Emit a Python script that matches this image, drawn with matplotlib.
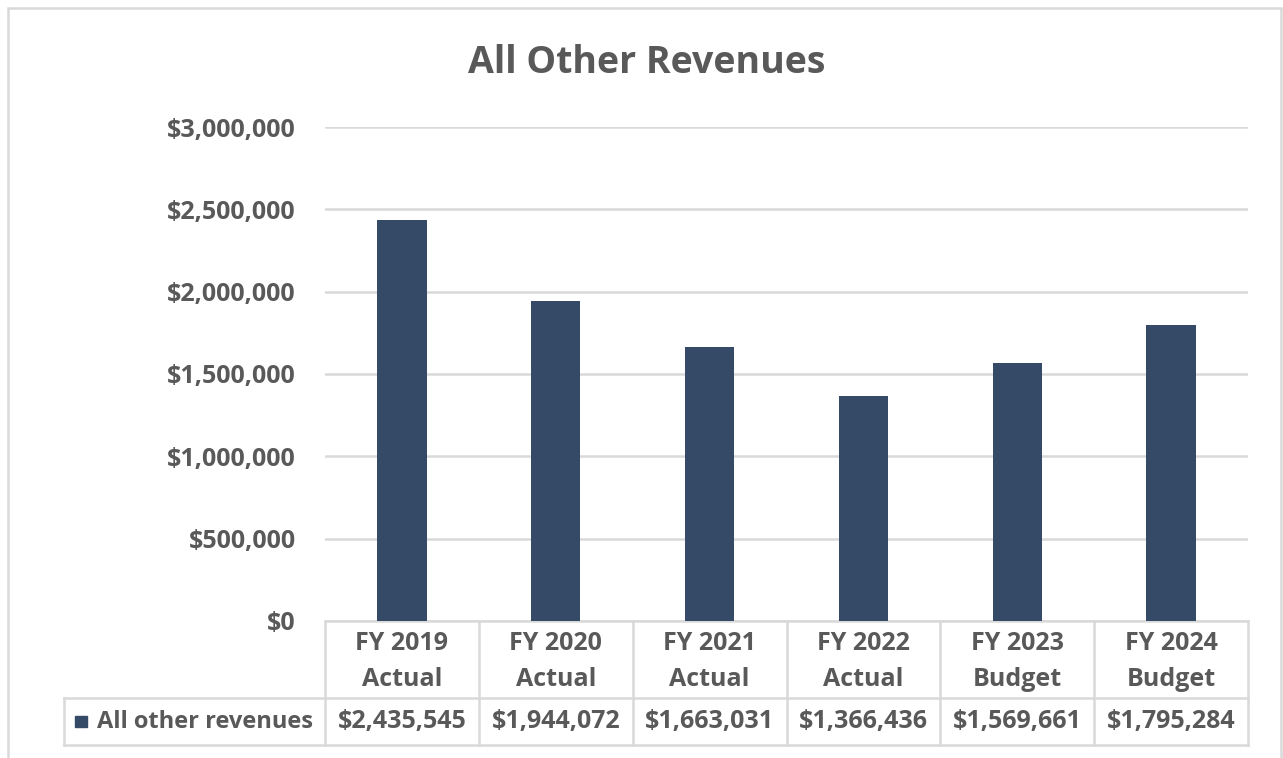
import matplotlib.pyplot as plt
import matplotlib.transforms as mtransforms
from matplotlib.patches import Rectangle
from matplotlib.ticker import FuncFormatter

plt.rcParams['font.family'] = ['Open Sans', 'DejaVu Sans']

# data
years = ["FY 2019", "FY 2020", "FY 2021", "FY 2022", "FY 2023", "FY 2024"]
kinds = ["Actual", "Actual", "Actual", "Actual", "Budget", "Budget"]
revenues = [2435545, 1944072, 1663031, 1366436, 1569661, 1795284]
series_name = "All other revenues"

bar_color = '#354a66'
text_color = '#595959'
line_color = '#d9d9d9'

W, H = 1283, 758
fig = plt.figure(figsize=(W / 100, H / 100), dpi=100)
ax = fig.add_axes([325 / W, (H - 621) / H, (1248 - 325) / W, (621 - 127) / H])

x = list(range(len(years)))
ax.bar(x, revenues, width=0.32, color=bar_color, zorder=3)
ax.set_xlim(-0.5, len(years) - 0.5)
ax.set_ylim(0, 3000000)
ax.set_yticks(range(0, 3000001, 500000))
ax.yaxis.set_major_formatter(FuncFormatter(lambda v, p: f"${v:,.0f}"))
ax.tick_params(axis='y', length=0, pad=21, labelsize=18, labelcolor=text_color)
for lab in ax.get_yticklabels():
    lab.set_fontweight('bold')
ax.set_xticks([])
ax.grid(axis='y', color=line_color, linewidth=1.8, zorder=0)
for s in ax.spines.values():
    s.set_visible(False)

# data table under the plot
tr = mtransforms.blended_transform_factory(ax.transData, ax.transAxes)
y_head = -0.156
y_bot = -0.251
x_left = -2.197
n = len(years)
kw = dict(color=line_color, linewidth=1.8, transform=tr, clip_on=False)
ax.plot([-0.5, n - 0.5], [0, 0], **kw)
ax.plot([x_left, n - 0.5], [y_head, y_head], **kw)
ax.plot([x_left, n - 0.5], [y_bot, y_bot], **kw)
ax.plot([x_left, x_left], [y_head, y_bot], **kw)
for k in range(n + 1):
    ax.plot([k - 0.5, k - 0.5], [0, y_bot], **kw)

for i in range(n):
    ax.text(i, y_head / 2 - 0.004, f"{years[i]}\n{kinds[i]}", transform=tr, ha='center', va='center',
            fontsize=18, fontweight='bold', color=text_color, linespacing=1.6)
    ax.text(i, (y_head + y_bot) / 2, f"${revenues[i]:,}", transform=tr, ha='center', va='center',
            fontsize=18, fontweight='bold', color=text_color)

ax.add_patch(Rectangle((-2.125, (y_head + y_bot) / 2 - 0.012), 0.078, 0.024, transform=tr,
                       color=bar_color, clip_on=False))
ax.text(-1.985, (y_head + y_bot) / 2, series_name, transform=tr, ha='left', va='center',
        fontsize=17, fontweight='bold', color=text_color)

fig.text(647 / W, 1 - 63 / H, "All Other Revenues", ha='center', va='center',
         fontsize=27, fontweight='bold', color=text_color)

fig.add_artist(Rectangle((8 / W, -0.05), (1281 - 8) / W, 1.05 - 8 / H, transform=fig.transFigure,
                         fill=False, edgecolor=line_color, linewidth=1.8))

fig.savefig('out.png', dpi=100)
